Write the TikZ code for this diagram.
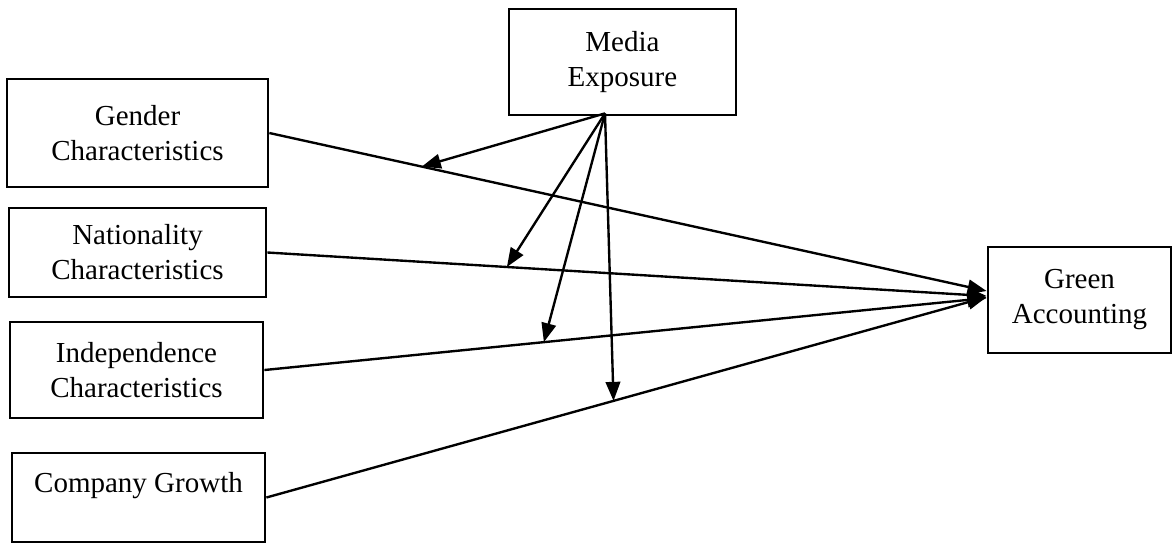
\documentclass[tikz,border=0pt]{standalone}
\usepackage{fontspec}
\setmainfont{Liberation Serif}
\usetikzlibrary{arrows.meta,calc}
\begin{document}
\begin{tikzpicture}[x=0.4pt,y=-0.4pt,
  box/.style={draw,line width=1.1pt,align=center,inner sep=0pt,font=\fontsize{11.6}{14}\selectfont},
  arr/.style={line width=0.95pt,-{Triangle[length=7.6pt,width=5.8pt]}}]
\useasboundingbox (0,0) rectangle (1173,543);
\node[box,minimum width=90.8pt,minimum height=42.4pt] (media) at (622.5,62) {Media\\Exposure};
\node[box,minimum width=104.4pt,minimum height=43.2pt] (gender) at (137.5,133) {Gender\\Characteristics};
\node[box,minimum width=102.8pt,minimum height=35.6pt] (nation) at (137.5,252.5) {Nationality\\Characteristics};
\node[box,minimum width=101.2pt,minimum height=38.4pt] (indep) at (136.5,370) {Independence\\Characteristics};
\node[box,minimum width=101.2pt,text height=15.6pt,text depth=20pt,anchor=base] (growth) at (138.5,492) {Company Growth};
\node[box,minimum width=73.2pt,minimum height=42.4pt] (green) at (1079.5,300) {Green\\Accounting};
\coordinate (src) at ([xshift=-7pt,yshift=1.2pt]media.south);
\coordinate (gA) at ([yshift=3.6pt]green.west);
\coordinate (gB) at ([yshift=1.6pt]green.west);
\coordinate (gC) at ([yshift=0.8pt]green.west);
\coordinate (gD) at ([yshift=1.2pt]green.west);
\draw[arr] (gender.east) -- (gA);
\draw[arr] (nation.east) -- (gB);
\draw[arr] (indep.east) -- (gC);
\draw[arr] (growth.east) -- (gD);
\draw[arr] (src) -- ($(gender.east)!0.2125!(gA)$);
\draw[arr] (src) -- ($(nation.east)!0.333!(gB)$);
\draw[arr] (src) -- ($(indep.east)!0.387!(gC)$);
\draw[arr] (src) -- ($(growth.east)!0.482!(gD)$);
\end{tikzpicture}
\end{document}
